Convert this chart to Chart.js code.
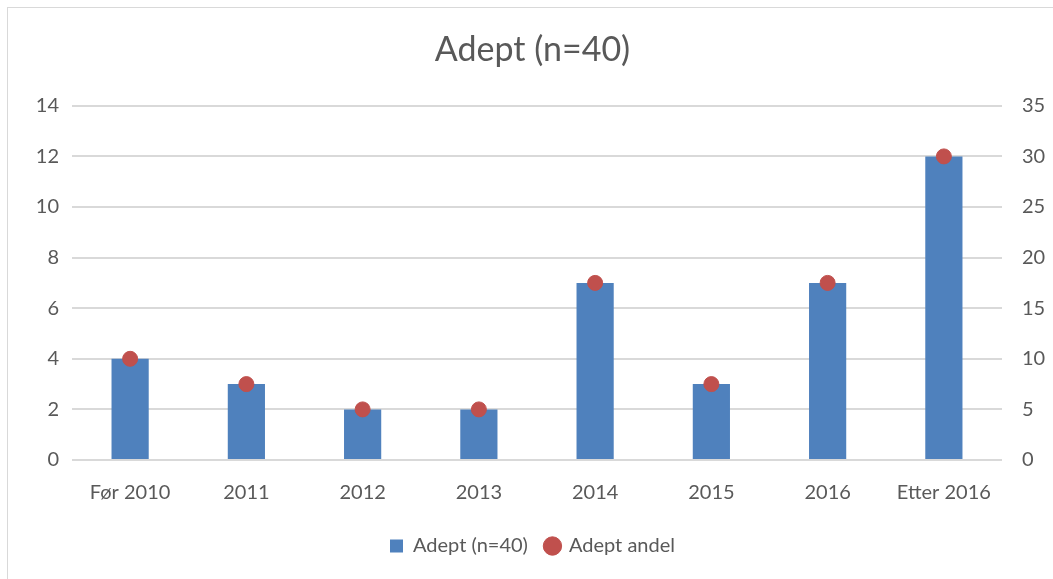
<!DOCTYPE html>
<html>
<head>
<meta charset="utf-8">
<script src="https://cdn.jsdelivr.net/npm/chart.js@4"></script>
<style>
  html, body { margin: 0; padding: 0; background: #fff; overflow: hidden; }
  #frame { position: absolute; left: 7px; top: 7px; width: 1100px; height: 620px; border: 1px solid #d9d9d9; }
  #wrap { position: absolute; left: 0; top: 0; width: 1053px; height: 579px; }
</style>
</head>
<body>
<div id="frame"></div>
<div id="wrap"><canvas id="chart"></canvas></div>
<script>
const categories = ['Før 2010', '2011', '2012', '2013', '2014', '2015', '2016', 'Etter 2016'];
const antall = [4, 3, 2, 2, 7, 3, 7, 12];
const andel = [10, 7.5, 5, 5, 17.5, 7.5, 17.5, 30];

const grey = '#595959';
const fontFam = 'Lato, "Open Sans", sans-serif';

new Chart(document.getElementById('chart'), {
  type: 'bar',
  data: {
    labels: categories,
    datasets: [
      {
        type: 'line',
        label: 'Adept andel',
        data: andel,
        yAxisID: 'y2',
        showLine: false,
        pointStyle: 'circle',
        pointRadius: 7.5,
        pointBackgroundColor: '#c0504d',
        pointBorderColor: '#c0504d',
        backgroundColor: '#c0504d',
        borderColor: '#c0504d',
        order: 0
      },
      {
        label: 'Adept (n=40)',
        data: antall,
        yAxisID: 'y',
        backgroundColor: '#4f81bd',
        borderColor: '#4f81bd',
        borderWidth: 0,
        pointStyle: 'rect',
        barPercentage: 0.32,
        categoryPercentage: 1,
        order: 1
      }
    ]
  },
  options: {
    responsive: true,
    maintainAspectRatio: false,
    animation: false,
    layout: { padding: { left: 20, right: 8, top: 0, bottom: 13 } },
    plugins: {
      title: {
        display: true,
        text: 'Adept (n=40)',
        color: grey,
        font: { family: fontFam, size: 34, weight: 'normal' },
        padding: { top: 30, bottom: 35 }
      },
      legend: {
        position: 'bottom',
        reverse: true,
        labels: {
          usePointStyle: true,
          boxWidth: 13,
          boxHeight: 13,
          color: grey,
          padding: 18,
          font: { family: fontFam, size: 20 }
        }
      },
      tooltip: { enabled: false }
    },
    scales: {
      x: {
        grid: { display: false },
        border: { display: false },
        ticks: { color: grey, font: { family: fontFam, size: 20 }, padding: 13, maxRotation: 0 }
      },
      y: {
        position: 'left',
        min: 0, max: 14,
        ticks: { stepSize: 2, color: grey, font: { family: fontFam, size: 20 }, padding: 13 },
        grid: { color: '#d9d9d9', lineWidth: 2, drawTicks: false },
        border: { display: false },
        afterFit: s => { s.width = 52; }
      },
      y2: {
        position: 'right',
        min: 0, max: 35,
        ticks: { stepSize: 5, color: grey, font: { family: fontFam, size: 20 }, padding: 20 },
        grid: { display: false, drawTicks: false },
        border: { display: false },
        afterFit: s => { s.width = 43; }
      }
    }
  }
});
</script>
</body>
</html>
